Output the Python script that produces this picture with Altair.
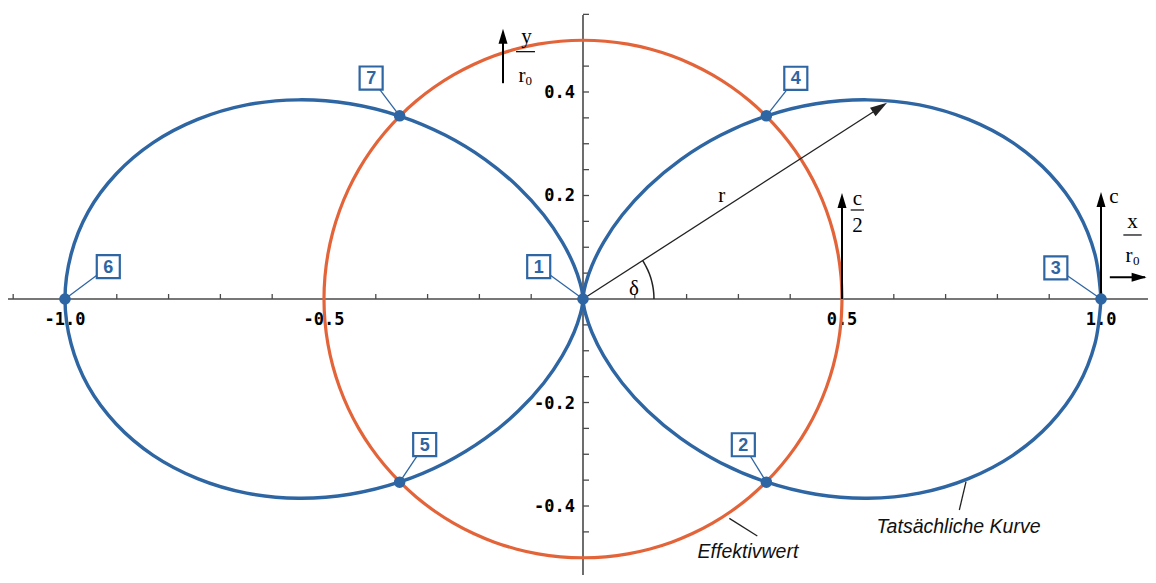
import altair as alt
import pandas as pd
import numpy as np

# ---------------- values ----------------
# actual curve ("Tatsächliche Kurve"), polar samples: angle (deg) and radius (x/r0)
winkel_grad = list(range(0, 361, 5))
kurve_r = [1.000, 0.992, 0.970, 0.933, 0.883, 0.821, 0.750, 0.671, 0.587, 0.500,
           0.413, 0.329, 0.250, 0.179, 0.117, 0.067, 0.030, 0.008, 0.000,
           0.008, 0.030, 0.067, 0.117, 0.179, 0.250, 0.329, 0.413, 0.500, 0.587,
           0.671, 0.750, 0.821, 0.883, 0.933, 0.970, 0.992, 1.000,
           0.992, 0.970, 0.933, 0.883, 0.821, 0.750, 0.671, 0.587, 0.500,
           0.413, 0.329, 0.250, 0.179, 0.117, 0.067, 0.030, 0.008, 0.000,
           0.008, 0.030, 0.067, 0.117, 0.179, 0.250, 0.329, 0.413, 0.500,
           0.587, 0.671, 0.750, 0.821, 0.883, 0.933, 0.970, 0.992, 1.000]
assert len(kurve_r) == len(winkel_grad)

# effective value ("Effektivwert"): circle of radius 0.5
effektiv_r = 0.5

# numbered points
punkt_nr = ["1", "2", "3", "4", "5", "6", "7"]
punkt_x = [0.0, 0.354, 1.0, 0.354, -0.354, -1.0, -0.354]
punkt_y = [0.0, -0.354, 0.0, 0.354, -0.354, 0.0, 0.354]
# where the number boxes sit
box_x = [-0.0855, 0.3095, 0.9128, 0.4108, -0.3056, -0.9164, -0.409]
box_y = [0.0624, -0.2816, 0.0603, 0.4265, -0.2812, 0.0624, 0.427]

# axis ticks and tick labels
x_ticks = [-1.1, -1.0, -0.9, -0.8, -0.7, -0.6, -0.5, -0.4, -0.3, -0.2, -0.1,
           0.1, 0.2, 0.3, 0.4, 0.5, 0.6, 0.7, 0.8, 0.9, 1.0]
y_ticks = [-0.5, -0.45, -0.4, -0.35, -0.3, -0.25, -0.2, -0.15, -0.1, -0.05,
           0.05, 0.1, 0.15, 0.2, 0.25, 0.3, 0.35, 0.4, 0.45, 0.5, 0.55]
x_label_vals = [-1.0, -0.5, 0.5, 1.0]
x_label_txt = ["-1.0", "-0.5", "0.5", "1.0"]
y_label_vals = [0.4, 0.2, -0.2, -0.4]
y_label_txt = ["0.4", "0.2", "-0.2", "-0.4"]

# delta angle arc
bogen_grad = [0, 3, 6, 9, 12, 15, 18, 21, 24, 27, 30, 33]
bogen_r = 0.137

# ---------------- layout / style ----------------
X_MIN, X_MAX = -1.110, 1.0907
Y_MIN, Y_MAX = -0.5333, 0.5623
W, H = 1140, 567
BLAU = "#2E65A3"
ORANGE = "#E4643A"
AXIS = "#4a4a4a"

xs = alt.Scale(domain=[X_MIN, X_MAX], nice=False, zero=False)
ys = alt.Scale(domain=[Y_MIN, Y_MAX], nice=False, zero=False)


def ex(f):
    return alt.X(f, type="quantitative", scale=xs, axis=None)


def ey(f):
    return alt.Y(f, type="quantitative", scale=ys, axis=None)


# ---------------- tables ----------------
th = np.radians(winkel_grad)
kurve = pd.DataFrame({"i": range(len(th)),
                      "x": np.array(kurve_r) * np.cos(th),
                      "y": np.array(kurve_r) * np.sin(th)})
kreis = pd.DataFrame({"i": range(len(th)),
                      "x": effektiv_r * np.cos(th),
                      "y": effektiv_r * np.sin(th)})
tb = np.radians(bogen_grad)
bogen = pd.DataFrame({"i": range(len(tb)),
                      "x": bogen_r * np.cos(tb), "y": bogen_r * np.sin(tb)})
punkte = pd.DataFrame({"nr": punkt_nr, "x": punkt_x, "y": punkt_y,
                       "bx": box_x, "by": box_y})

achsen = pd.DataFrame({"x": [X_MIN, 0.0], "x2": [X_MAX, 0.0],
                       "y": [0.0, Y_MIN], "y2": [0.0, 0.549]})
achsen_lines = alt.Chart(achsen).mark_rule(color=AXIS, strokeWidth=1.6).encode(
    x=ex("x"), x2="x2", y=ey("y"), y2="y2")

# ticks (x ticks point up, y ticks point right)
xt = pd.DataFrame({"x": x_ticks, "y": [0.0] * len(x_ticks)})
yt = pd.DataFrame({"y": y_ticks, "x": [0.0] * len(y_ticks)})
x_tick_layer = alt.Chart(xt).mark_tick(orient="vertical", size=5, thickness=1.3,
                                       yOffset=-2.5, color=AXIS, opacity=1).encode(
    x=ex("x"), y=ey("y"))
y_tick_layer = alt.Chart(yt).mark_tick(orient="horizontal", size=6, thickness=1.3,
                                       xOffset=3, color=AXIS, opacity=1).encode(
    x=ex("x"), y=ey("y"))
xl = pd.DataFrame({"x": x_label_vals, "y": [0.0] * 4, "t": x_label_txt})
yl = pd.DataFrame({"y": y_label_vals, "x": [0.0] * 4, "t": y_label_txt})
x_lab_layer = alt.Chart(xl).mark_text(font="DejaVu Sans Mono", fontWeight="bold",
                                      fontSize=17, baseline="top", align="center",
                                      dy=13, color="black").encode(
    x=ex("x"), y=ey("y"), text="t:N")
y_lab_layer = alt.Chart(yl).mark_text(font="DejaVu Sans Mono", fontWeight="bold",
                                      fontSize=17, baseline="middle", align="right",
                                      dx=-8, dy=1, color="black").encode(
    x=ex("x"), y=ey("y"), text="t:N")

kreis_line = alt.Chart(kreis).mark_line(color=ORANGE, strokeWidth=3.2,
                                        interpolate="catmull-rom").encode(
    x=ex("x"), y=ey("y"), order="i:Q")
kurve_line = alt.Chart(kurve).mark_line(color=BLAU, strokeWidth=3.4,
                                        interpolate="catmull-rom").encode(
    x=ex("x"), y=ey("y"), order="i:Q")

# arrows
pfeile_dick = pd.DataFrame({
    "x": [0.5, 1.0, 1.017, -0.1544],
    "y": [0.0, 0.0, 0.042, 0.417],
    "x2": [0.5, 1.0, 1.085, -0.1544],
    "y2": [0.195, 0.197, 0.042, 0.512],
})
pfeil_lines = alt.Chart(pfeile_dick).mark_rule(color="black", strokeWidth=2).encode(
    x=ex("x"), x2="x2", y=ey("y"), y2="y2")
r_pfeil = alt.Chart(pd.DataFrame({"x": [0.0], "y": [0.0], "x2": [0.578], "y2": [0.373]})
                    ).mark_rule(color="#222", strokeWidth=1.3).encode(
    x=ex("x"), x2="x2", y=ey("y"), y2="y2")

HEAD = "M0,0L-0.3,1L0.3,1Z"
spitzen_v = pd.DataFrame({"x": [0.5, 1.0, -0.1544], "y": [0.205, 0.207, 0.522]})
head_v = alt.Chart(spitzen_v).mark_point(shape=HEAD, filled=True, size=900,
                                         color="black", opacity=1, strokeWidth=0,
                                         angle=0).encode(x=ex("x"), y=ey("y"))
head_x = alt.Chart(pd.DataFrame({"x": [1.088], "y": [0.042]})).mark_point(
    shape=HEAD, filled=True, size=900, color="black", opacity=1, strokeWidth=0,
    angle=90).encode(x=ex("x"), y=ey("y"))
head_r = alt.Chart(pd.DataFrame({"x": [0.587], "y": [0.379]})).mark_point(
    shape=HEAD, filled=True, size=1156, color="#222", opacity=1, strokeWidth=0,
    angle=57.15).encode(x=ex("x"), y=ey("y"))

bogen_line = alt.Chart(bogen).mark_line(color="#222", strokeWidth=1.5,
                                        interpolate="catmull-rom").encode(
    x=ex("x"), y=ey("y"), order="i:Q")

# fraction bars
bruch = pd.DataFrame({"x": [-0.1293, 0.5168, 1.0431], "x2": [-0.0927, 0.5425, 1.0785],
                      "y": [0.4779, 0.172, 0.1237]})
bruch_lines = alt.Chart(bruch).mark_rule(color="black", strokeWidth=1.2).encode(
    x=ex("x"), x2="x2", y=ey("y"))

serif_txt = pd.DataFrame({
    "t": ["y", "r", "c", "2", "c", "x", "r", "δ", "r"],
    "x": [-0.109, -0.1178, 0.5299, 0.5299, 1.0251, 1.0608, 1.054, 0.0985, 0.2677],
    "y": [0.4947, 0.420, 0.1816, 0.130, 0.185, 0.1366, 0.0721, 0.0077, 0.188],
})
serif_layer = alt.Chart(serif_txt).mark_text(font="Liberation Serif", fontSize=21,
                                             baseline="alphabetic", align="center",
                                             color="black").encode(
    x=ex("x"), y=ey("y"), text="t:N")
sub_txt = pd.DataFrame({"t": ["0", "0"], "x": [-0.1048, 1.0682], "y": [0.4135, 0.0657]})
sub_layer = alt.Chart(sub_txt).mark_text(font="Liberation Serif", fontSize=13,
                                         baseline="alphabetic", align="center",
                                         color="black").encode(
    x=ex("x"), y=ey("y"), text="t:N")

# annotations
anno_lines = pd.DataFrame({"x": [0.2825, 0.7394], "y": [-0.4238, -0.353],
                           "x2": [0.3365, 0.7265], "y2": [-0.458, -0.4077]})
anno_rules = alt.Chart(anno_lines).mark_rule(color="#222", strokeWidth=1.3).encode(
    x=ex("x"), x2="x2", y=ey("y"), y2="y2")
anno_txt = pd.DataFrame({"t": ["Effektivwert", "Tatsächliche Kurve"],
                         "x": [0.3185, 0.7249], "y": [-0.4999, -0.4528]})
anno_layer = alt.Chart(anno_txt).mark_text(font="Liberation Sans", fontSize=19.5,
                                           fontStyle="italic", baseline="alphabetic",
                                           align="center", color="#111").encode(
    x=ex("x"), y=ey("y"), text="t:N")

# numbered points
leader = alt.Chart(punkte).mark_rule(color=BLAU, strokeWidth=1.3).encode(
    x=ex("x"), x2="bx", y=ey("y"), y2="by")
dots = alt.Chart(punkte).mark_circle(size=135, color=BLAU, opacity=1).encode(
    x=ex("x"), y=ey("y"))
boxes = alt.Chart(punkte).mark_square(size=530, fill="white", stroke=BLAU,
                                      strokeWidth=2.2, opacity=1, fillOpacity=1).encode(
    x=ex("bx"), y=ey("by"))
box_txt = alt.Chart(punkte).mark_text(font="Liberation Sans", fontWeight="bold",
                                      fontSize=18, color=BLAU, baseline="middle",
                                      align="center", dy=1).encode(
    x=ex("bx"), y=ey("by"), text="nr:N")

chart = alt.layer(
    achsen_lines, x_tick_layer, y_tick_layer, x_lab_layer, y_lab_layer,
    kreis_line, kurve_line,
    r_pfeil, head_r, bogen_line, pfeil_lines, head_v, head_x,
    bruch_lines, serif_layer, sub_layer, anno_rules, anno_layer,
    leader, dots, boxes, box_txt,
).properties(
    width=W, height=H, padding=0,
    autosize=alt.AutoSizeParams(type="none"),
    background="white",
).configure_view(stroke=None)

chart.save("out.html", embed_options={"renderer": "svg", "actions": False})
